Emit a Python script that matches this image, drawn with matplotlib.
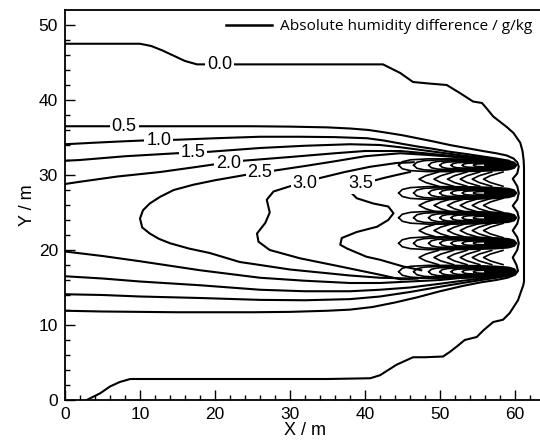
## Contour map of absolute humidity difference, contour lines traced by hand
import matplotlib
matplotlib.use("Agg")
import matplotlib.pyplot as plt
from matplotlib.lines import Line2D

plt.rcParams['font.family'] = ['Liberation Sans', 'DejaVu Sans']

## ---- contour 0.0 (outer boundary) ----
c00_x = [0, 10, 11.5, 13, 14.5, 16, 17.6, 20, 25, 30, 35, 40, 42.4, 44.7, 46.4, 48.5, 50.9,
         52.7, 54.4, 55.6, 56.2, 57.1, 58.0, 58.9, 59.8, 60.7, 61.0, 61.15, 61.2, 61.2, 61.1,
         60.4, 59.3, 58.4, 57.1, 55.8, 54.9, 53.3, 52.2, 51.3, 50.4, 48.0, 46.4, 44.2, 42.0,
         40.7, 35, 25, 15, 8.7, 7.3, 6.0, 4.7, 2.9]
c00_y = [47.5, 47.5, 47.2, 46.6, 45.9, 45.2, 44.75, 44.75, 44.75, 44.75, 44.75, 44.75, 44.75,
         43.6, 42.4, 42.2, 42.0, 40.9, 39.8, 39.6, 38.9, 37.8, 37.1, 36.4, 35.6, 34.3, 33.2,
         32.0, 31.0, 15.8, 15.3, 13.3, 11.6, 10.7, 10.4, 9.3, 8.4, 8.0, 7.1, 6.4, 5.8, 5.7,
         5.7, 4.7, 3.3, 2.9, 2.8, 2.8, 2.8, 2.8, 2.4, 1.8, 0.9, 0.0]

## ---- contour 0.5 (upper branch, right envelope, lower branch) ----
c05_up_x = [0, 5, 10, 15, 20, 25, 30, 35, 38, 40.5, 42.5, 45, 47, 49, 51.3, 53.5, 55.7, 57.5, 58.9, 59.8]
c05_up_y = [36.5, 36.5, 36.5, 36.5, 36.5, 36.5, 36.45, 36.35, 36.2, 36.0, 35.7, 35.3, 34.9, 34.5,
            34.0, 33.6, 33.2, 32.9, 32.6, 32.2]
c05_env_x = [60.3, 60.5, 60.3, 59.7, 60.3, 60.5, 60.3, 59.7, 60.3, 60.5, 60.3, 59.7, 60.3, 60.5,
             60.3, 59.7, 60.2, 60.4, 60.0]
c05_env_y = [31.7, 31.1, 30.2, 29.5, 28.5, 27.6, 26.7, 25.9, 25.1, 24.3, 23.5, 22.6, 21.7, 20.9,
             20.0, 19.0, 18.0, 17.2, 16.7]
c05_lo_x = [59.0, 57.5, 55.5, 53, 50, 47, 44, 41, 38, 35, 30, 25, 20, 15, 10, 5, 0]
c05_lo_y = [16.3, 16.0, 15.7, 15.2, 14.5, 13.7, 13.0, 12.4, 12.05, 11.9, 11.75, 11.7, 11.7, 11.7,
            11.75, 11.8, 11.9]

## ---- contour 1.0 ----
c10_up_x = [0, 3.8, 8, 10.4, 14.9, 20, 26, 31.3, 36, 40.3, 42.5, 44.7, 47, 49, 51.3, 53.5, 55.5, 57.5, 59.2]
c10_up_y = [34.1, 34.3, 34.5, 34.6, 34.7, 34.9, 35.1, 35.1, 35.05, 34.9, 34.6, 34.2, 33.8, 33.5,
            33.1, 32.8, 32.5, 32.2, 31.9]
c10_lo_x = [0, 5, 10, 18, 26, 32, 38, 42, 46, 50, 53, 55.5, 57.5, 59.2]
c10_lo_y = [14.1, 14.0, 13.8, 13.6, 13.35, 13.3, 13.45, 13.8, 14.4, 15.1, 15.6, 16.0, 16.3, 16.6]

## ---- contour 1.5 ----
c15_up_x = [0, 2, 8, 14.9, 19.3, 26, 32, 38, 42, 44.7, 47, 50, 53, 55.5, 57.5, 59.2]
c15_up_y = [31.9, 32.0, 32.5, 32.9, 33.1, 33.6, 33.9, 34.1, 34.0, 33.7, 33.4, 33.0, 32.6, 32.3, 32.0, 31.8]
c15_lo_x = [0, 5, 10, 18, 26, 32, 38, 42, 46, 50, 53, 55.5, 57.5, 59.2]
c15_lo_y = [16.5, 16.2, 15.8, 15.3, 14.7, 14.5, 14.5, 14.7, 15.0, 15.5, 15.9, 16.2, 16.5, 16.7]

## ---- contour 2.0 ----
c20_up_x = [0, 2, 7, 12.7, 17, 19.8, 23.7, 30, 36, 40, 44.7, 48, 52, 55.5, 57.5, 59.2]
c20_up_y = [28.8, 29.1, 29.8, 30.4, 31.0, 31.4, 31.9, 32.4, 32.9, 33.2, 33.2, 32.9, 32.5, 32.2, 32.0, 31.8]
c20_lo_x = [0, 5, 10, 18, 26, 32, 38, 42, 46, 50, 53, 55.5, 57.5, 59.2]
c20_lo_y = [19.8, 19.2, 18.5, 17.3, 16.3, 15.9, 15.6, 15.6, 15.8, 16.0, 16.3, 16.5, 16.7, 16.8]

## ---- contour 2.5 (closed nose) ----
c25_x = [59.2, 57.5, 55, 52, 48, 44.7, 40, 35.8, 32, 28, 24, 20, 17.1, 14.5, 12.7, 11.3, 10.4,
         10.0, 10.3, 11.3, 12.5, 14, 16.5, 19.3, 23.3, 26, 30, 34, 38, 42, 46, 50, 53, 55.5, 57.5, 59.2]
c25_y = [31.7, 31.9, 32.1, 32.4, 32.7, 32.9, 32.5, 31.8, 31.2, 30.6, 30.0, 29.3, 28.7, 28.0, 27.1,
         26.2, 25.3, 24.2, 23.0, 22.2, 21.5, 20.9, 20.2, 19.6, 18.4, 18.0, 17.4, 17.0, 16.6, 16.3,
         16.2, 16.4, 16.6, 16.7, 16.8, 16.9]

## ---- contour 3.0 ----
c30_x = [46.5, 44.2, 40.7, 37.3, 34, 32, 30, 27.8, 26.9, 27.3, 26.7, 25.6, 25.8, 27.3, 31.3, 36.7, 42, 44.7, 47]
c30_y = [31.7, 31.6, 31.1, 30.4, 29.6, 28.9, 28.5, 27.8, 26.7, 25.0, 23.6, 22.2, 21.1, 20.0, 18.9,
         17.8, 16.7, 16.1, 16.2]

## ---- contour 3.5 ----
c35_x = [46.0, 44.2, 42.5, 41.0, 39.4, 37.8, 37.9, 38.9, 41.1, 43.1, 43.8, 43.1, 41.6, 38.9, 36.9,
         36.7, 37.6, 40.2, 42.0, 45.1, 47.5]
c35_y = [30.4, 30.0, 29.6, 29.2, 28.9, 28.6, 27.9, 26.9, 26.2, 25.8, 24.9, 24.0, 23.1, 22.4, 21.6,
         20.7, 20.2, 19.1, 18.7, 17.8, 17.3]

## ---- dense fingers near the outlet plane ----
finger_y = [31.3, 27.6, 24.3, 20.9, 17.1]
lens_left = [44.5, 46.5, 48.5, 50.0, 51.5, 53.0, 54.5, 56.0]
lens_tip = [60.2, 60.1, 60.0, 59.8, 59.6, 59.4, 59.2, 59.0]
lens_half = [0.85, 0.72, 0.6, 0.5, 0.4, 0.3, 0.2, 0.1]
lens_u = [0.0, 0.03, 0.1, 0.25, 0.45, 0.65, 0.82, 0.93, 0.98, 1.0]
lens_v = [0.0, 0.55, 0.85, 1.0, 1.0, 0.95, 0.85, 0.7, 0.45, 0.0]
chev_apex = [47.2, 49.2, 51.0, 52.7, 54.3, 55.8]
chev_dx = [2.6, 0.9, 0.0, 0.9, 2.6]
chev_dy = [0.95, 0.45, 0.0, -0.45, -0.95]

## ---- labels ----
label_text = ["0.0", "0.5", "1.0", "1.5", "2.0", "2.5", "3.0", "3.5"]
label_x = [20.6, 7.9, 12.5, 17.1, 21.8, 26.0, 32.0, 39.4]
label_y = [44.75, 36.5, 34.65, 33.0, 31.6, 30.3, 28.9, 28.9]

fig = plt.figure(figsize=(5.4, 4.45), dpi=100)
ax = fig.add_axes([65 / 540, 45 / 445, 480 / 540, 390 / 445])

lw = 1.5
kw = dict(color="black", lw=lw, solid_joinstyle="round", zorder=2)
ax.plot(c00_x, c00_y, **kw)
ax.plot(c05_up_x + c05_env_x + c05_lo_x, c05_up_y + c05_env_y + c05_lo_y, **kw)
for xs, ys in [(c10_up_x, c10_up_y), (c10_lo_x, c10_lo_y), (c15_up_x, c15_up_y),
               (c15_lo_x, c15_lo_y), (c20_up_x, c20_up_y), (c20_lo_x, c20_lo_y),
               (c25_x, c25_y), (c30_x, c30_y), (c35_x, c35_y)]:
    ax.plot(xs, ys, **kw)

fkw = dict(color="black", lw=1.2, solid_joinstyle="round", zorder=2)
for fy in finger_y:
    for xl, xt, h in zip(lens_left, lens_tip, lens_half):
        xs = [xl + u * (xt - xl) for u in lens_u]
        ys_up = [fy + v * h for v in lens_v]
        ys_lo = [fy - v * h for v in lens_v]
        ax.plot(xs + xs[::-1], ys_up + ys_lo[::-1], **fkw)

for y_a, y_b in zip(finger_y[:-1], finger_y[1:]):
    ym = (y_a + y_b) / 2
    for ax0 in chev_apex:
        ax.plot([ax0 + d for d in chev_dx], [ym + d for d in chev_dy], **fkw)

for s, x, y in zip(label_text, label_x, label_y):
    ax.text(x, y, s, ha="center", va="center", fontsize=13, zorder=5,
            bbox=dict(boxstyle="square,pad=0.1", fc="white", ec="none"))

ax.set_xlim(0, 64)
ax.set_ylim(0, 52)
ax.set_xticks(range(0, 61, 10))
ax.set_yticks(range(0, 51, 10))
ax.set_xticks(range(0, 64, 2), minor=True)
ax.set_yticks(range(0, 52, 2), minor=True)
ax.tick_params(which="both", direction="in", top=False, right=False, width=1)
ax.tick_params(which="major", length=7, labelsize=12.5, pad=5)
ax.tick_params(which="minor", length=3.5)
for sp in ax.spines.values():
    sp.set_linewidth(1.3)
ax.set_xlabel("X / m", fontsize=13, labelpad=0)
ax.set_ylabel("Y / m", fontsize=13, labelpad=2)

h = Line2D([], [], color="black", lw=1.8)
ax.legend([h], ["Absolute humidity difference / g/kg"], loc="upper right",
          bbox_to_anchor=(538 / 540, 432 / 445), bbox_transform=fig.transFigure,
          frameon=False, handlelength=3.0, handletextpad=0.5, borderaxespad=0,
          prop={"family": ["Open Sans", "DejaVu Sans"], "size": 11.1})

fig.savefig("out.png", dpi=100)
